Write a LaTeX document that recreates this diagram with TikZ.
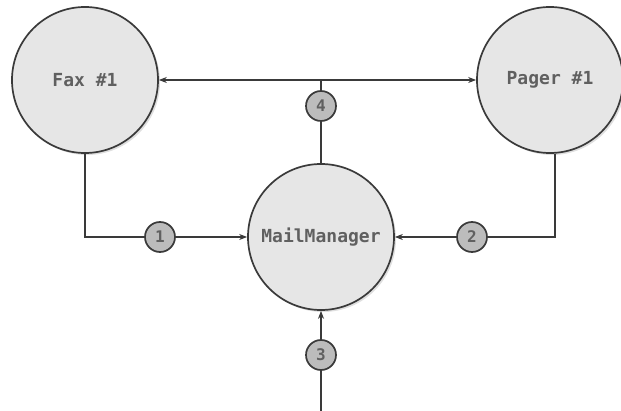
\documentclass[tikz,border=0pt]{standalone}
\usepackage{fontspec}
\newfontfamily\lblfont{DejaVu Sans Mono}
\usetikzlibrary{arrows.meta,shadows}
\definecolor{linegray}{HTML}{3A3A3A}
\definecolor{textgray}{HTML}{606060}
\definecolor{bigfill}{HTML}{E6E6E6}
\definecolor{smallfill}{HTML}{BCBCBC}
\tikzset{
	station/.style={circle, draw=linegray, line width=1.7pt, fill=bigfill, minimum size=146pt, inner sep=0pt,
		drop shadow={opacity=0.25, shadow xshift=2pt, shadow yshift=-2pt},
		font=\lblfont\bfseries\fontsize{18}{21}\selectfont, text=textgray},
	stepnum/.style={circle, draw=linegray, line width=1.7pt, fill=smallfill, minimum size=30pt, inner sep=0pt,
		font=\lblfont\bfseries\fontsize{16}{18}\selectfont, text=textgray},
	wire/.style={draw=linegray, line width=1.7pt},
	flow/.style={wire, -{Stealth[length=8pt,width=6pt]}}
}
\begin{document}
\begin{tikzpicture}[x=1pt, y=-1pt]
		\useasboundingbox (0,0) rectangle (621,411);
		
		%stations
		\node[station] (fax) at (85, 80) {Fax \#1};
		\node[station] (pager) at (550, 80) {Pager \#1};
		\node[station] (mail) at (321, 237) {MailManager};
		
		%step numbers
		\node[stepnum] (s1) at (160, 237) {1};
		\node[stepnum] (s2) at (472, 237) {2};
		\node[stepnum] (s3) at (321, 355) {3};
		\node[stepnum] (s4) at (321, 106) {4};
		\coordinate (feed) at (321, 411);
		\coordinate (tee) at (321, 80);
		
		%connectors
		\draw[wire] (fax.south) |- (s1);
		\draw[flow] (s1) -- (mail.west);
		\draw[wire] ([xshift=5pt]pager.south) |- (s2);
		\draw[flow] (s2) -- (mail.east);
		\draw[wire] (feed) -- (s3);
		\draw[flow] (s3) -- (mail.south);
		\draw[wire] (mail.north) -- (s4);
		\draw[wire] (s4) -- (tee);
		\draw[flow, {Stealth[length=8pt,width=6pt]}-{Stealth[length=8pt,width=6pt]}] (fax.east) -- (pager.west);
	\end{tikzpicture}
\end{document}
